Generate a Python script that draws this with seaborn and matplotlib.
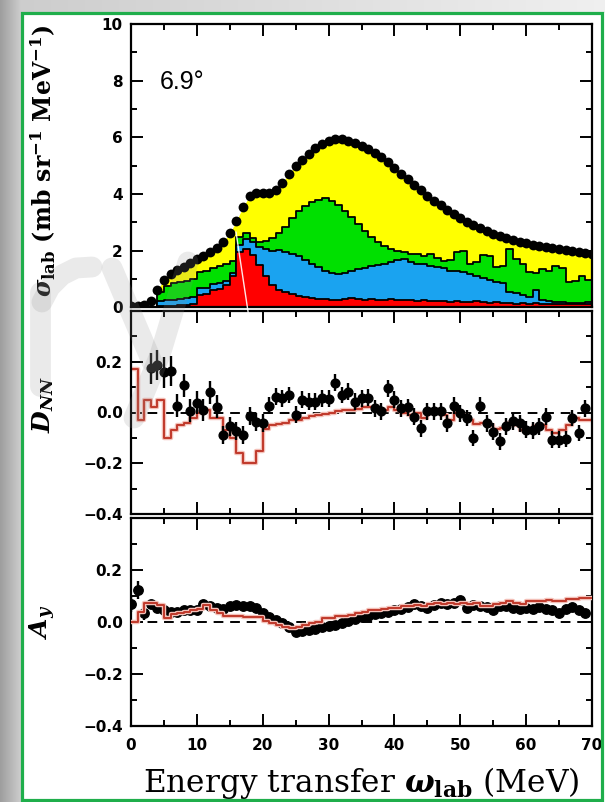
import numpy as np
import pandas as pd
import matplotlib
matplotlib.use("Agg")
import matplotlib.pyplot as plt
import matplotlib.patheffects as pe
from matplotlib.patches import Rectangle
from matplotlib.ticker import MultipleLocator, FixedLocator
import seaborn as sns

# ---------------------------------------------------------------- data
# measured cross section, one point per MeV of energy transfer
energy = np.arange(0, 71)
sigma = [0.05, 0.05, 0.10, 0.22, 0.60, 0.98, 1.18, 1.32, 1.44, 1.57,
         1.70, 1.83, 1.96, 2.10, 2.30, 2.62, 3.05, 3.55, 3.92, 4.05,
         4.05, 4.03, 4.15, 4.40, 4.72, 5.00, 5.22, 5.42, 5.62, 5.78,
         5.88, 5.93, 5.93, 5.88, 5.80, 5.70, 5.60, 5.46, 5.30, 5.13,
         4.92, 4.72, 4.52, 4.33, 4.14, 3.95, 3.77, 3.60, 3.44, 3.29,
         3.15, 3.02, 2.90, 2.79, 2.69, 2.60, 2.52, 2.45, 2.38, 2.32,
         2.27, 2.22, 2.18, 2.14, 2.10, 2.06, 2.02, 1.98, 1.95, 1.91,
         1.88]

# 1 MeV histogram bins of the model decomposition (cumulative levels)
bin_edges = np.arange(0, 71)
bin_centers = bin_edges[:-1] + 0.5
level_red = [0, 0, 0, 0, 0.05, 0.05, 0.07, 0.08, 0.10, 0.12,
             0.45, 0.48, 0.60, 0.65, 0.80, 1.10, 1.95, 2.05, 1.85, 1.50,
             1.10, 0.80, 0.62, 0.55, 0.48, 0.42, 0.37, 0.34, 0.31, 0.30,
             0.28, 0.28, 0.30, 0.33, 0.30, 0.28, 0.30, 0.27, 0.26, 0.30,
             0.28, 0.25, 0.27, 0.23, 0.26, 0.24, 0.22, 0.24, 0.20, 0.22,
             0.20, 0.18, 0.22, 0.18, 0.16, 0.19, 0.15, 0.17, 0.14, 0.16,
             0.13, 0.15, 0.12, 0.14, 0.12, 0.13, 0.11, 0.12, 0.12, 0.13]
level_blue = [0, 0, 0, 0, 0.22, 0.26, 0.28, 0.30, 0.33, 0.36,
              0.68, 0.70, 0.82, 0.86, 0.95, 1.20, 2.20, 2.40, 2.30, 2.15,
              2.05, 2.00, 2.02, 1.95, 1.90, 1.80, 1.68, 1.55, 1.42, 1.30,
              1.20, 1.18, 1.22, 1.28, 1.35, 1.40, 1.45, 1.50, 1.55, 1.62,
              1.68, 1.72, 1.62, 1.55, 1.55, 1.45, 1.42, 1.38, 1.30, 1.27,
              1.25, 1.18, 1.10, 1.05, 0.97, 0.90, 0.88, 0.55, 0.50, 0.45,
              0.38, 0.60, 0.28, 0.22, 0.20, 0.18, 0.17, 0.17, 0.16, 0.18]
level_green = [0, 0, 0, 0, 0.55, 0.75, 0.85, 0.90, 0.95, 1.00,
               1.25, 1.30, 1.38, 1.45, 1.52, 1.65, 2.50, 2.62, 2.45, 2.30,
               2.35, 2.45, 2.62, 2.85, 3.15, 3.40, 3.58, 3.72, 3.80, 3.85,
               3.75, 3.62, 3.40, 3.20, 2.95, 2.70, 2.50, 2.30, 2.18, 2.08,
               2.00, 1.95, 1.90, 1.88, 1.80, 1.90, 1.75, 1.65, 1.68, 1.95,
               2.00, 1.55, 1.60, 1.85, 1.80, 1.42, 1.45, 2.05, 1.70, 1.55,
               1.25, 1.20, 1.35, 1.30, 1.45, 1.40, 0.90, 0.95, 1.10, 0.98]

# polarization transfer D_NN
dnn_energy = np.arange(3, 70)
dnn = [0.174, 0.187, 0.158, 0.163, 0.027, 0.108, 0.007, 0.039, 0.010, 0.080,
       0.022, -0.088, -0.055, -0.072, -0.088, -0.014, -0.036, -0.040, 0.027, 0.063,
       0.056, 0.069, -0.009, 0.050, 0.043, 0.043, 0.056, 0.054, 0.118, 0.069,
       0.082, 0.043, 0.056, 0.058, 0.017, 0.004, 0.095, 0.050, 0.017, 0.020,
       -0.016, -0.062, 0.004, 0.004, 0.004, -0.042, 0.027, -0.003, -0.022, -0.100,
       0.027, -0.042, -0.075, -0.114, -0.055, -0.035, -0.042, -0.068, -0.070, -0.055,
       -0.016, -0.107, -0.107, -0.104, -0.022, -0.081, 0.017]
dnn_err = [0.060, 0.060, 0.060, 0.060, 0.045, 0.045, 0.045, 0.045, 0.045, 0.045,
           0.045] + [0.036] * 7 + [0.033] * 49
dnn_model = [0.17, -0.03, 0.05, 0.02, 0.05, -0.10, -0.07, -0.05, -0.04, -0.02,
             0.00, 0.01, -0.02, -0.02, -0.07, -0.10, -0.16, -0.20, -0.20, -0.15,
             -0.065, -0.05, -0.045, -0.04, -0.03, -0.03, -0.02, -0.015, -0.01, -0.005,
             0.00, 0.005, 0.008, 0.01, 0.012, 0.02, 0.02, 0.015, 0.01, 0.02,
             0.01, 0.00, -0.01, 0.00, -0.02, 0.00, 0.01, -0.01, -0.03, 0.00,
             -0.01, -0.03, -0.045, -0.04, -0.05, -0.065, -0.06, -0.04, -0.05, -0.07,
             -0.075, -0.055, -0.05, -0.07, -0.08, -0.07, -0.05, -0.02, -0.03, -0.03]

# analyzing power A_y
ay_energy = np.arange(0, 70)
ay = [0.068, 0.123, 0.036, 0.068, 0.055, 0.045, 0.040, 0.040, 0.045, 0.045,
      0.048, 0.070, 0.060, 0.055, 0.050, 0.060, 0.065, 0.062, 0.062, 0.052,
      0.035, 0.020, 0.008, -0.005, -0.020, -0.040, -0.035, -0.030, -0.025, -0.020,
      -0.015, -0.010, -0.003, 0.005, 0.012, 0.020, 0.025, 0.030, 0.035, 0.040,
      0.045, 0.050, 0.058, 0.070, 0.060, 0.055, 0.065, 0.072, 0.070, 0.072,
      0.085, 0.055, 0.065, 0.062, 0.058, 0.048, 0.060, 0.062, 0.055, 0.050,
      0.052, 0.050, 0.058, 0.050, 0.048, 0.033, 0.050, 0.058, 0.048, 0.035]
ay_err = [0.030, 0.035, 0.030, 0.015] + [0.008] * 66
ay_model = [0.0, 0.04, 0.075, 0.075, 0.065, 0.015, 0.03, 0.035, 0.04, 0.045,
            0.05, 0.065, 0.045, 0.035, 0.025, 0.025, 0.022, 0.02, 0.02, 0.018,
            0.005, -0.005, -0.012, -0.018, -0.022, -0.02, -0.012, -0.005, 0.0, 0.015,
            0.015, 0.022, 0.025, 0.028, 0.035, 0.04, 0.045, 0.045, 0.05, 0.052,
            0.055, 0.06, 0.062, 0.065, 0.06, 0.07, 0.072, 0.07, 0.075, 0.07,
            0.072, 0.07, 0.075, 0.06, 0.062, 0.07, 0.075, 0.08, 0.075, 0.068,
            0.082, 0.08, 0.08, 0.085, 0.082, 0.08, 0.09, 0.09, 0.092, 0.092]

pol_ticks = [-0.4, -0.2, 0.0, 0.2, 0.4]
pol_ticklabels = ["\u22120.4", "\u22120.2", "0.0", "0.2", ""]
sigma_ticks = [0, 2, 4, 6, 8, 10]
energy_ticks = [0, 10, 20, 30, 40, 50, 60, 70]

# ---------------------------------------------------------------- style
sns.set_theme(style="ticks")
plt.rcParams.update({
    "font.family": ["DejaVu Sans"],
    "mathtext.fontset": "custom",
    "mathtext.rm": "DejaVu Serif:bold",
    "mathtext.it": "DejaVu Serif:italic:bold",
    "mathtext.bf": "DejaVu Serif:bold",
    "text.color": "black",
    "axes.labelcolor": "black",
    "axes.edgecolor": "black",
    "axes.linewidth": 1.6,
    "xtick.color": "black",
    "ytick.color": "black",
})

YELLOW = "#ffff00"
GREEN = "#00e000"
BLUE = "#1aa3f0"
RED = "#ff0000"
MODEL = "#c0392b"
glow = [pe.Stroke(linewidth=3.2, foreground="#f3c0b8"), pe.Normal()]

fig = plt.figure(figsize=(6.05, 8.02), dpi=100)

# page background: grey margin strips
bg = fig.add_axes([0, 0, 1, 1], zorder=-10)
img = np.ones((802, 605, 3))
xs = np.arange(605)
img[:, :22, :] = (0.62 + 0.20 * xs[:22] / 22.0)[None, :, None]
img[:13, :, :] = np.minimum(img[:13, :, :], (0.80 + 0.14 * xs / 605.0)[None, :, None])
bg.imshow(img, extent=[0, 605, 802, 0], aspect="auto", interpolation="bilinear")
bg.set_xlim(0, 605)
bg.set_ylim(802, 0)
bg.axis("off")

L, W = 131 / 605, 461 / 605
ax1 = fig.add_axes([L, (802 - 307.5) / 802, W, 283.5 / 802])
ax2 = fig.add_axes([L, (802 - 514) / 802, W, 203 / 802])
ax3 = fig.add_axes([L, (802 - 726) / 802, W, 208 / 802])

# ---------------------------------------------------------------- cross section
e_arr = np.asarray(energy)
s_arr = np.asarray(sigma)
ax1.fill_between(e_arr, 0, s_arr, where=e_arr >= 4, color=YELLOW, lw=0, zorder=1)
for level, col in [(level_green, GREEN), (level_blue, BLUE), (level_red, RED)]:
    comp = pd.DataFrame({"energy": bin_centers, "level": level})
    sns.histplot(data=comp, x="energy", weights="level", bins=70,
                 binrange=(0, 70), element="step", fill=True, color=col,
                 edgecolor="black", linewidth=1.3, alpha=1, ax=ax1, zorder=2)
sns.scatterplot(x=energy, y=sigma, color="black", s=50, linewidth=0,
                ax=ax1, zorder=5)
ax1.set_ylim(0, 10)
ax1.text(4.4, 7.95, "6.9°", fontsize=18, family="Liberation Sans",
         ha="left", va="center")

# ---------------------------------------------------------------- D_NN
ax2.axhline(0, color="black", lw=1.4, ls=(0, (5, 3.5)), zorder=1)
sns.lineplot(x=bin_edges, y=list(dnn_model) + [dnn_model[-1]],
             drawstyle="steps-post", color=MODEL, linewidth=1.4,
             path_effects=glow, ax=ax2, zorder=2)
ax2.errorbar(dnn_energy, dnn, yerr=dnn_err, fmt="o", color="black", ms=6.3,
             elinewidth=1.7, capsize=0, zorder=4)

# ---------------------------------------------------------------- A_y
ax3.axhline(0, color="black", lw=1.4, ls=(0, (5, 3.5)), zorder=1)
ax3.errorbar(ay_energy, ay, yerr=ay_err, fmt="o", color="black", ms=6.8,
             elinewidth=1.7, capsize=0, zorder=3)
sns.lineplot(x=bin_edges, y=list(ay_model) + [ay_model[-1]],
             drawstyle="steps-post", color=MODEL, linewidth=1.4,
             path_effects=glow, ax=ax3, zorder=4)

# ---------------------------------------------------------------- axes styling
for ax in (ax1, ax2, ax3):
    ax.set_xlim(0, 70)
    ax.set_xlabel("")
    ax.set_ylabel("")
    ax.xaxis.set_major_locator(FixedLocator(energy_ticks))
    ax.xaxis.set_minor_locator(MultipleLocator(5))
    ax.tick_params(which="both", direction="in", top=True, right=True,
                   width=1.4, color="black")
    ax.tick_params(which="major", length=8.5)
    ax.tick_params(which="minor", length=4.5)
    ax.tick_params(axis="y", pad=6)
    for sp in ax.spines.values():
        sp.set_linewidth(1.6)
        sp.set_color("black")
    ax.set_facecolor("none")
    legend = ax.get_legend()
    if legend is not None:
        legend.remove()

ax1.set_yticks(sigma_ticks)
ax1.set_yticklabels([str(t) for t in sigma_ticks], fontweight="bold", fontsize=11)
ax1.yaxis.set_minor_locator(MultipleLocator(1))
for ax in (ax2, ax3):
    ax.set_ylim(-0.4, 0.4)
    ax.set_yticks(pol_ticks)
    ax.set_yticklabels(pol_ticklabels, fontweight="bold", fontsize=11)
    ax.yaxis.set_minor_locator(MultipleLocator(0.1))
for ax in (ax1, ax2):
    ax.tick_params(axis="x", labelbottom=False)
ax3.set_xticks(energy_ticks)
ax3.set_xticklabels([str(t) for t in energy_ticks], fontweight="bold", fontsize=11)
ax3.tick_params(axis="x", pad=9)

# axis titles
fig.text(0.071, 0.80, r"$\sigma_{\rm lab}$ (mb sr$^{-1}$ MeV$^{-1}$)",
         rotation=90, ha="center", va="center", fontsize=17,
         family="DejaVu Serif", fontweight="bold")
fig.text(0.071, 1 - 405 / 802, r"$D_{NN}$", rotation=90, ha="center",
         va="center", fontsize=18)
fig.text(0.071, 1 - 622 / 802, r"$A_y$", rotation=90, ha="center",
         va="center", fontsize=18)
fig.text(361 / 605, 1 - 792 / 802, r"Energy transfer $\omega_{\rm lab}$ (MeV)",
         ha="center", va="baseline", fontsize=22.5, family="DejaVu Serif")

# faint grey stamp strokes over the lower left of the upper panels
ov = fig.add_axes([0, 0, 1, 1], zorder=50)
ov.set_xlim(0, 605)
ov.set_ylim(802, 0)
ov.axis("off")
ov.patch.set_alpha(0)
stroke = dict(color="0.55", alpha=0.18, lw=15, solid_capstyle="round",
              solid_joinstyle="round")
ov.plot([40, 40], [292, 386], **stroke)
ov.plot([42, 50, 62, 76, 92], [302, 287, 275, 268, 267], **stroke)
ov.plot([112, 152], [268, 362], **stroke)
ov.plot([188, 160, 134], [262, 355, 418], **stroke)
ov.plot([236, 249], [232, 318], color="white", lw=1.0, alpha=0.9)

fig.add_artist(Rectangle((22 / 605, 1 - 800 / 802), 580 / 605, 787 / 802,
                         transform=fig.transFigure, fill=False,
                         edgecolor="#1fae4b", linewidth=2.3, zorder=100))

fig.savefig("out.png", dpi=100)
